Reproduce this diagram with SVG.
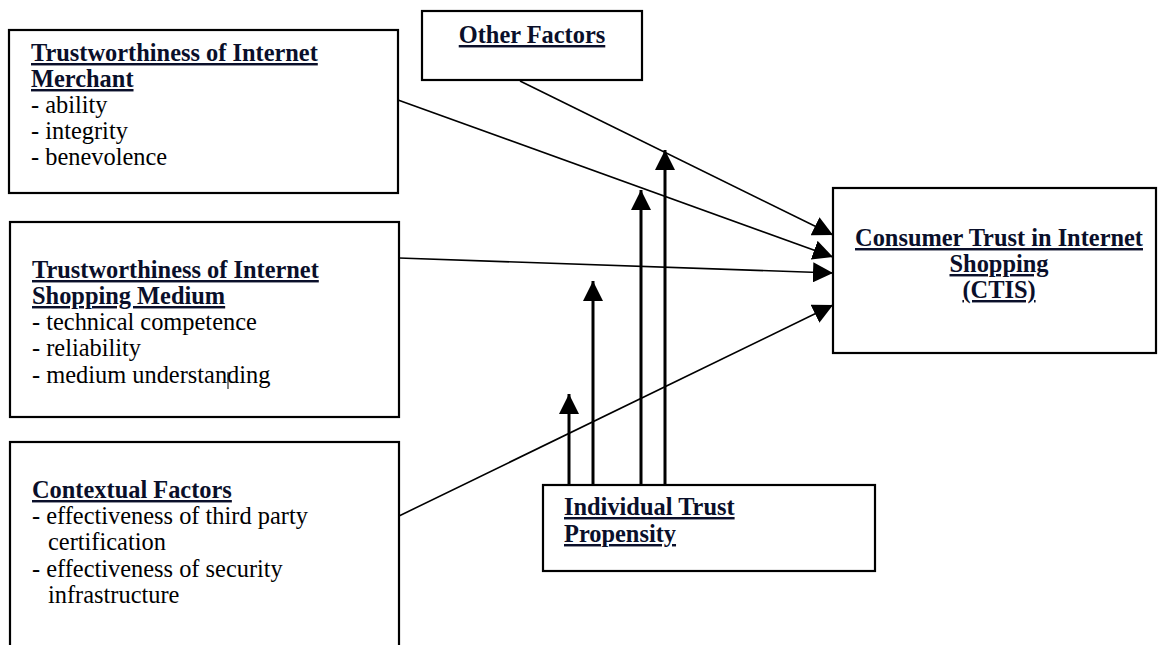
<svg xmlns="http://www.w3.org/2000/svg" width="1158" height="645" viewBox="0 0 1158 645">
<style>
.box{fill:#fff;stroke:#000;stroke-width:2.2}
.t{font-size:24.4px;fill:#000}
.h{font-weight:bold;text-decoration:underline;fill:#0a0f2a}
.thin{stroke:#000;stroke-width:1.6;fill:none}
.thick{stroke:#000;stroke-width:3;fill:none}
</style>
<defs>
<marker id="ah" markerUnits="userSpaceOnUse" markerWidth="20" markerHeight="20" refX="20" refY="10" orient="auto" viewBox="0 0 20 20">
<path d="M0,0 L20,10 L0,20 Z" fill="#000"/>
</marker>
</defs>
<rect width="1158" height="645" fill="#fff"/>
<g font-family="'Liberation Serif', Tinos, 'Times New Roman', 'DejaVu Serif', serif">
<g id="merchant">
<rect class="box" x="9" y="30" width="389" height="163"/>
<text class="t h" x="31" y="61">Trustworthiness of Internet</text>
<text class="t h" x="31" y="87">Merchant</text>
<text class="t" x="31" y="113">- ability</text>
<text class="t" x="31" y="139">- integrity</text>
<text class="t" x="31" y="165">- benevolence</text>
</g>
<g id="medium">
<rect class="box" x="10" y="222" width="389" height="195"/>
<text class="t h" x="32" y="278">Trustworthiness of Internet</text>
<text class="t h" x="32" y="304">Shopping Medium</text>
<text class="t" x="32" y="330">- technical competence</text>
<text class="t" x="32" y="356">- reliability</text>
<text class="t" x="32" y="383">- medium understanding</text>
<line x1="228" y1="372" x2="228" y2="389" stroke="#000" stroke-width="1"/>
</g>
<g id="contextual">
<rect class="box" x="10" y="442" width="389" height="240"/>
<text class="t h" x="32" y="498">Contextual Factors</text>
<text class="t" x="32" y="524">- effectiveness of third party</text>
<text class="t" x="48" y="550">certification</text>
<text class="t" x="32" y="577">- effectiveness of security</text>
<text class="t" x="48" y="603">infrastructure</text>
</g>
<g id="other">
<rect class="box" x="422" y="11" width="220" height="69"/>
<text class="t h" x="532" y="43" text-anchor="middle">Other Factors</text>
</g>
<g id="ctis">
<rect class="box" x="833" y="188" width="323" height="165"/>
<text class="t h" x="999" y="246" text-anchor="middle">Consumer Trust in Internet</text>
<text class="t h" x="999" y="272" text-anchor="middle">Shopping</text>
<text class="t h" x="999" y="298" text-anchor="middle">(CTIS)</text>
</g>
<g id="propensity">
<rect class="box" x="543" y="485" width="332" height="86"/>
<text class="t h" x="564" y="515">Individual Trust</text>
<text class="t h" x="564" y="542">Propensity</text>
</g>
</g>
<g id="connectors">
<line class="thin" x1="520" y1="81" x2="833" y2="235" marker-end="url(#ah)"/>
<line class="thin" x1="398" y1="100" x2="833" y2="257" marker-end="url(#ah)"/>
<line class="thin" x1="399" y1="258" x2="833" y2="273" marker-end="url(#ah)"/>
<line class="thin" x1="399" y1="516" x2="833" y2="305" marker-end="url(#ah)"/>
<line class="thick" x1="569" y1="485" x2="569" y2="394" marker-end="url(#ah)"/>
<line class="thick" x1="593" y1="485" x2="593" y2="281" marker-end="url(#ah)"/>
<line class="thick" x1="641" y1="485" x2="641" y2="190" marker-end="url(#ah)"/>
<line class="thick" x1="665" y1="485" x2="665" y2="150" marker-end="url(#ah)"/>
</g>
</svg>
